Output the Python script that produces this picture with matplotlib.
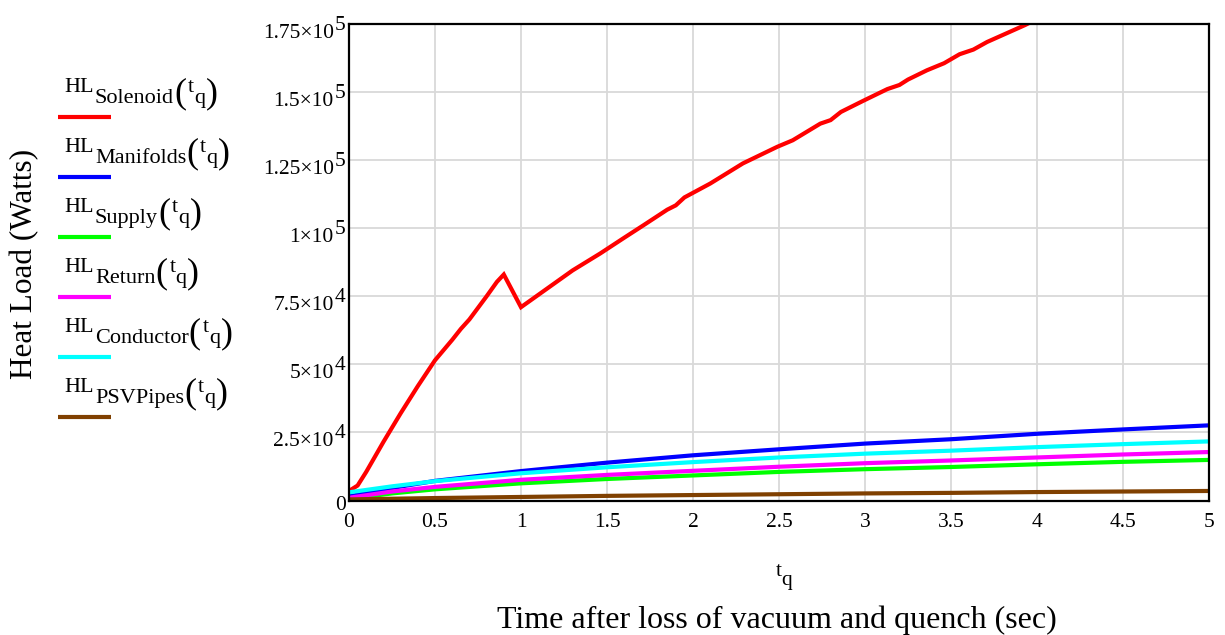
import matplotlib
matplotlib.use("Agg")
import matplotlib.pyplot as plt
from matplotlib.lines import Line2D

# ---- heat load data (W) versus time after quench (s) ----
t_solenoid = [0.0, 0.05, 0.1, 0.2, 0.3, 0.4, 0.5, 0.6, 0.65, 0.7, 0.8, 0.86, 0.9,
              1.0, 1.14, 1.2, 1.3, 1.46, 1.6, 1.71, 1.85, 1.9, 1.95, 2.1, 2.29,
              2.49, 2.58, 2.74, 2.8, 2.86, 2.99, 3.13, 3.2, 3.25, 3.36, 3.46,
              3.55, 3.63, 3.71, 3.82, 3.93, 4.0]
hl_solenoid = [3500, 5500, 10500, 21500, 32000, 42000, 51500, 59000, 63000, 66500,
               75000, 80300, 83000, 71000, 77300, 80000, 84500, 90700, 96500,
               101000, 106800, 108400, 111300, 116400, 123800, 129900, 132300,
               138400, 139700, 142700, 146800, 151100, 152600, 154600, 158000,
               160600, 163900, 165600, 168400, 171500, 174600, 176800]

t_q = [0, 0.25, 0.5, 1, 1.5, 2, 2.5, 3, 3.5, 4, 4.5, 5]
hl_manifolds = [1500, 4600, 7200, 10800, 13900, 16600, 18800, 20900, 22500, 24500, 26100, 27600]
hl_supply = [600, 2600, 4100, 6300, 7900, 9200, 10500, 11500, 12300, 13300, 14200, 14900]
hl_return = [1000, 3300, 5000, 7600, 9400, 10900, 12400, 13700, 14700, 15800, 16900, 17800]
hl_conductor = [3000, 5200, 7100, 10000, 12200, 14100, 15800, 17200, 18300, 19600, 20700, 21700]
hl_psvpipes = [400, 650, 900, 1300, 1700, 2000, 2300, 2600, 2800, 3100, 3300, 3500]

series_names = ['Solenoid', 'Manifolds', 'Supply', 'Return', 'Conductor', 'PSVPipes']
series_colors = ['#ff0000', '#0000ff', '#00ff00', '#ff00ff', '#00ffff', '#804000']

x_ticks = [0, 0.5, 1, 1.5, 2, 2.5, 3, 3.5, 4, 4.5, 5]
x_tick_labels = ['0', '0.5', '1', '1.5', '2', '2.5', '3', '3.5', '4', '4.5', '5']
y_ticks = [0, 25000, 50000, 75000, 100000, 125000, 150000, 175000]
y_tick_mantissas = ['0', '2.5', '5', '7.5', '1', '1.25', '1.5', '1.75']
y_tick_exponents = ['', '4', '4', '4', '5', '5', '5', '5']

# ---- figure ----
W, H = 1225, 635
fig = plt.figure(figsize=(W / 100, H / 100), dpi=100)
fig.patch.set_facecolor('white')
renderer = fig.canvas.get_renderer()
SERIF = ['Liberation Serif', 'DejaVu Serif']


def fig_xy(x, y):
    """Pixel position measured from the top-left corner -> figure fraction."""
    return x / W, 1 - y / H


def ink_width(s, size):
    t = fig.text(0, 0, s, fontsize=size, family=SERIF)
    w = t.get_window_extent(renderer).width
    t.remove()
    return w


def rich_text(x, y, pieces, align='left'):
    """Draw text pieces side by side; each piece is
    (string, font size, baseline shift downwards in px, gap before in px)."""
    total = sum(gap + ink_width(s, sz) for s, sz, dy, gap in pieces)
    if align == 'right':
        x -= total
    elif align == 'center':
        x -= total / 2
    for s, sz, dy, gap in pieces:
        x += gap
        fx, fy = fig_xy(x, y + dy)
        fig.text(fx, fy, s, fontsize=sz, family=SERIF, ha='left', va='baseline')
        x += ink_width(s, sz)


ax_left, ax_right, ax_top, ax_bottom = 349, 1209, 24, 500.5
ax = fig.add_axes([ax_left / W, 1 - ax_bottom / H,
                   (ax_right - ax_left) / W, (ax_bottom - ax_top) / H])

all_t = [t_solenoid] + [t_q] * 5
all_hl = [hl_solenoid, hl_manifolds, hl_supply, hl_return, hl_conductor, hl_psvpipes]
for tt, hl, c in zip(all_t, all_hl, series_colors):
    ax.plot(tt, hl, color=c, lw=3.0, solid_joinstyle='miter')

ax.set_xlim(0, 5)
ax.set_ylim(0, 175000)
ax.set_xticks(x_ticks)
ax.set_xticklabels(x_tick_labels, fontsize=15.5, family=SERIF)
ax.set_yticks(y_ticks)
ax.set_yticklabels([])
ax.tick_params(length=0)
ax.tick_params(axis='x', pad=9)
ax.set_axisbelow(True)
ax.grid(True, color='#d9d9d9', lw=1.3)
for sp in ax.spines.values():
    sp.set_linewidth(1.6)
    sp.set_color('black')

# y tick labels in mantissa x 10^exponent form
for v, m, e in zip(y_ticks, y_tick_mantissas, y_tick_exponents):
    gy = H - ax.transData.transform((0, v))[1]
    if e:
        rich_text(345, gy + 13.5, [(m + '\u00d710', 15.5, 0, 0), (e, 15.5, -7.5, 0.5)],
                  align='right')
    else:
        rich_text(346, gy + 9.5, [(m, 15.5, 0, 0)], align='right')

# legend on the left
for i, (name, color) in enumerate(zip(series_names, series_colors)):
    base = 91.7 + 60 * i
    rich_text(64, base, [('HL', 16, 0, 0), (name, 16, 11.6, 1.5),
                         ('(', 26, 10.2, 0), ('t', 16, 0, 2), ('q', 16, 11.6, 0),
                         (')', 26, 10.2, 0.5)])
    ly = 116.5 + 60 * i
    (x0, y0), (x1, _) = fig_xy(58, ly), fig_xy(111, ly)
    fig.add_artist(Line2D([x0, x1], [y0, y0], transform=fig.transFigure,
                          color=color, lw=3.0, solid_capstyle='butt'))

# axis titles
rich_text(784, 576, [('t', 15.5, 0, 0), ('q', 15.5, 9, 0)], align='center')
fx, fy = fig_xy(777, 628)
fig.text(fx, fy, 'Time after loss of vacuum and quench (sec)', fontsize=23,
         family=SERIF, ha='center', va='baseline')
fx, fy = fig_xy(25, 264)
fig.text(fx, fy, 'Heat Load (Watts)', fontsize=22.5, family=SERIF,
         rotation=90, ha='center', va='center')

fig.savefig('out.png', dpi=100)
